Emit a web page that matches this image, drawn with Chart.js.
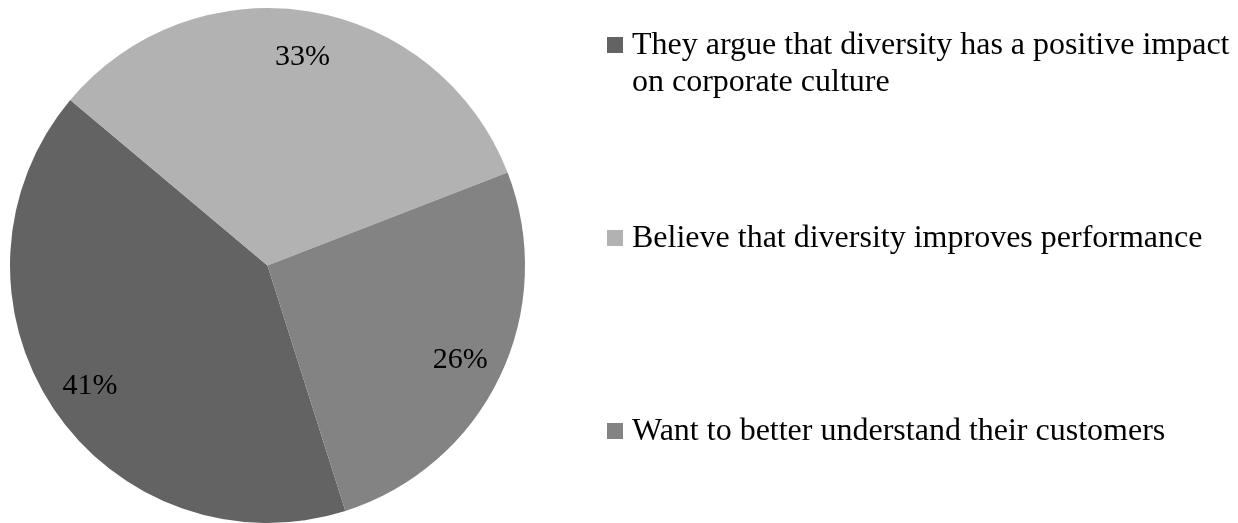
<!DOCTYPE html>
<html>
<head>
<meta charset="utf-8">
<title>Why companies value diversity</title>
<script src="https://cdn.jsdelivr.net/npm/chart.js@4/dist/chart.umd.min.js"></script>
<style>
  html, body { margin: 0; padding: 0; background: #fff; }
  #wrap { width: 1238px; height: 523px; position: relative; }
</style>
</head>
<body>
<div id="wrap"><canvas id="myChart" width="1238" height="523"></canvas></div>
<script>
var reasons = [
    "They argue that diversity has a positive impact on corporate culture",
    "Believe that diversity improves performance",
    "Want to better understand their customers"
];
var shares = [41, 33, 26];
var sliceColors = ["#636363", "#b2b2b2", "#838383"];

var SERIF = "'Liberation Serif', 'Times New Roman', serif";
var LABEL_FONT = "30px " + SERIF;
var LEGEND_FONT = "32px " + SERIF;

// percentage written inside each slice, near the rim
var sliceLabels = {
    id: "sliceLabels",
    afterDatasetsDraw: function (chart) {
        var ctx = chart.ctx;
        var meta = chart.getDatasetMeta(0);
        ctx.save();
        ctx.font = LABEL_FONT;
        ctx.fillStyle = "#000";
        ctx.textAlign = "center";
        ctx.textBaseline = "middle";
        meta.data.forEach(function (arc, i) {
            var p = arc.getProps(["x", "y", "startAngle", "endAngle", "outerRadius"], true);
            var mid = (p.startAngle + p.endAngle) / 2;
            var r = p.outerRadius * 0.83;
            ctx.fillText(shares[i] + "%", p.x + Math.cos(mid) * r, p.y + Math.sin(mid) * r + 2);
        });
        ctx.restore();
    }
};

// legend on the right, long labels wrapped onto a second line
var sideLegend = {
    id: "sideLegend",
    afterDraw: function (chart) {
        var ctx = chart.ctx;
        var boxX = 607, boxSize = 16, textX = 632;
        var firstBase = 54, step = 193, lineH = 37;
        var maxW = chart.width - textX - 4;
        ctx.save();
        ctx.font = LEGEND_FONT;
        ctx.textBaseline = "alphabetic";
        ctx.textAlign = "left";
        reasons.forEach(function (txt, i) {
            var base = firstBase + i * step;
            ctx.fillStyle = sliceColors[i];
            ctx.fillRect(boxX, base - 17, boxSize, boxSize);
            ctx.fillStyle = "#000";
            var words = txt.split(" ");
            var line = "";
            var y = base;
            words.forEach(function (w) {
                var test = line ? line + " " + w : w;
                if (ctx.measureText(test).width > maxW && line) {
                    ctx.fillText(line, textX, y);
                    line = w;
                    y += lineH;
                } else {
                    line = test;
                }
            });
            ctx.fillText(line, textX, y);
        });
        ctx.restore();
    }
};

var ctx = document.getElementById("myChart");
var myChart = new Chart(ctx, {
    type: "pie",
    data: {
        labels: reasons,
        datasets: [{
            data: shares,
            backgroundColor: sliceColors,
            borderWidth: 0
        }]
    },
    options: {
        responsive: false,
        animation: false,
        rotation: 162.4,
        layout: {
            padding: { left: 10, top: 8, bottom: 0, right: 713 }
        },
        plugins: {
            legend: { display: false },
            tooltip: { enabled: false }
        }
    },
    plugins: [sliceLabels, sideLegend]
});
</script>
</body>
</html>
